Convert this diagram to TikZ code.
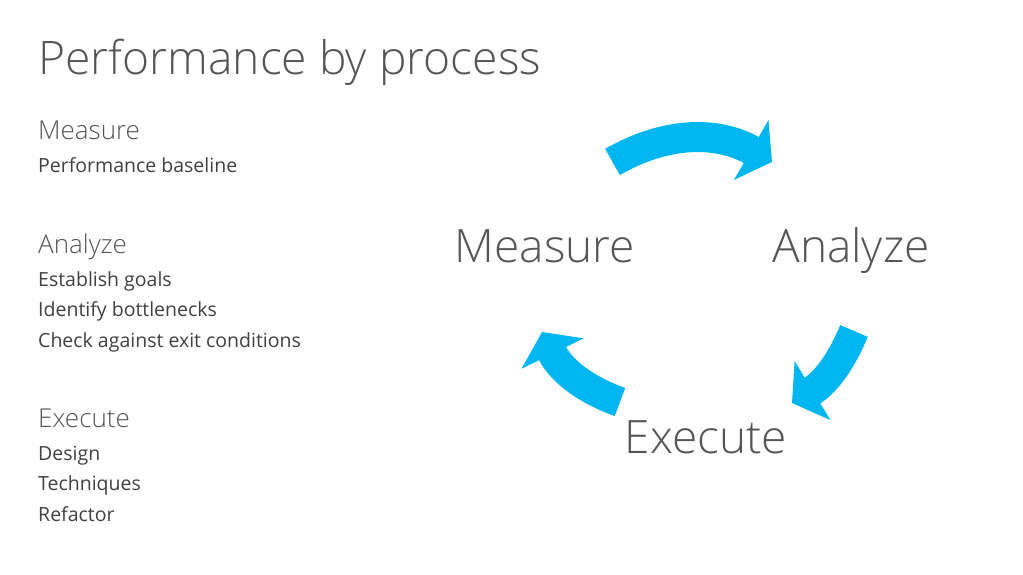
\documentclass[tikz,border=0pt]{standalone}
\usepackage{fontspec}
\setmainfont{Open Sans}
\newfontfamily\lightfont{Open Sans Light}
\usetikzlibrary{positioning,arrows.meta}
\definecolor{flowblue}{RGB}{0,182,240}
\definecolor{headgray}{RGB}{85,85,85}
\definecolor{bodygray}{RGB}{64,64,64}

\begin{document}
\begin{tikzpicture}[x=1pt, y=1pt,
  title/.style={font=\lightfont\fontsize{46.2}{54}\selectfont, text=headgray, inner sep=0pt, anchor=base west},
  head/.style={font=\lightfont\fontsize{26}{30}\selectfont, text=headgray, inner sep=0pt, anchor=base west, text depth=6pt},
  item/.style={font=\fontsize{19.5}{23}\selectfont, text=bodygray, inner sep=0pt, text height=15pt, text depth=5pt},
  phase/.style={font=\lightfont\fontsize{46}{54}\selectfont, text=headgray, inner sep=0pt, anchor=base},
  flow/.style={draw=flowblue, line width=30pt, -{Triangle[length=24pt, width=68pt]}}]

    \useasboundingbox (0,0) rectangle (1023,575);

    \node[title] (T) at (38,500) {Performance by process};

    % left column
    \node[head] (MH) at (38,435) {Measure};
    \node[item, below=11pt of MH.south west, anchor=north west] (M1) {Performance baseline};

    \node[head] (AH) at (38,321) {Analyze};
    \node[item, below=11pt of AH.south west, anchor=north west] (A1) {Establish goals};
    \node[item, below=10pt of A1.south west, anchor=north west] (A2) {Identify bottlenecks};
    \node[item, below=10pt of A2.south west, anchor=north west] (A3) {Check against exit conditions};

    \node[head] (EH) at (38,147) {Execute};
    \node[item, below=11pt of EH.south west, anchor=north west] (E1) {Design};
    \node[item, below=10pt of E1.south west, anchor=north west] (E2) {Techniques};
    \node[item, below=10pt of E2.south west, anchor=north west] (E3) {Refactor};

    % cycle
    \node[phase] (M) at (545,312) {Measure};
    \node[phase] (A) at (851,312) {Analyze};
    \node[phase] (E) at (706,121) {Execute};

    \coordinate (m-out) at (612.5,413);
    \coordinate (a-in) at (772,413);
    \coordinate (a-out) at (854,244);
    \coordinate (e-in) at (792,172);
    \coordinate (e-out) at (620,173);
    \coordinate (m-in) at (542,243);

    \draw[flow] (m-out) to[bend left=30] (a-in);
    \draw[flow] (a-out) to[bend left=18] (e-in);
    \draw[flow] (e-out) to[bend left=22] (m-in);

\end{tikzpicture}
\end{document}
